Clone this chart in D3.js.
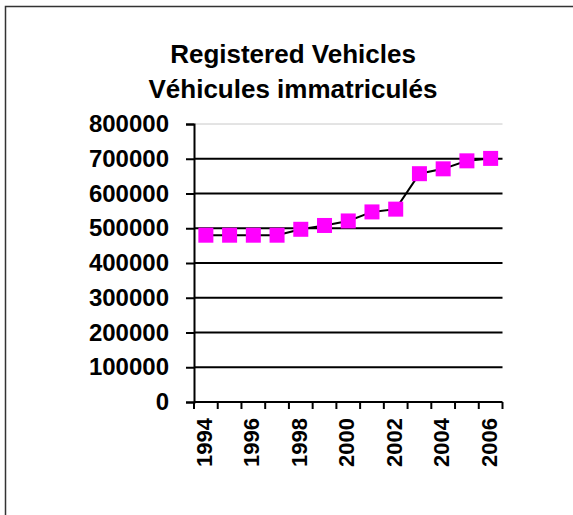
<!DOCTYPE html>
<html>
<head>
<meta charset="utf-8">
<script src="https://cdnjs.cloudflare.com/ajax/libs/d3/7.8.5/d3.min.js"></script>
<style>
  body { margin: 0; background: #fff; }
  svg text { font-family: Arial, "Liberation Sans", sans-serif; font-weight: bold; fill: #000; }
</style>
</head>
<body>
<svg width="573" height="515"></svg>
<script>
const width = 573, height = 515;
const svg = d3.select("svg");

// Chart data
const years = ["1994", "1995", "1996", "1997", "1998", "1999", "2000",
               "2001", "2002", "2003", "2004", "2005", "2006"];
const vehicles = [480000, 480000, 480000, 480000, 497000, 508000, 521000,
                  547000, 555000, 657000, 671000, 694000, 701000];
const yTicks = [0, 100000, 200000, 300000, 400000, 500000, 600000, 700000, 800000];
const xLabelYears = ["1994", "1996", "1998", "2000", "2002", "2004", "2006"];
const titleLines = ["Registered Vehicles", "Véhicules immatriculés"];

const plot = { left: 194, right: 502.5, top: 124, bottom: 402 };

// Outer frame (right and bottom edges fall outside the picture)
svg.append("rect")
    .attr("x", 5.5).attr("y", 6.5)
    .attr("width", 700).attr("height", 700)
    .attr("fill", "none")
    .attr("stroke", "#333")
    .attr("stroke-width", 1.5);

// Title
svg.selectAll(".title")
    .data(titleLines)
    .enter().append("text")
    .attr("class", "title")
    .attr("x", 293)
    .attr("y", (d, i) => 63 + i * 35)
    .attr("text-anchor", "middle")
    .style("font-size", "26px")
    .text(d => d);

// Scales
const xScale = d3.scaleBand()
    .domain(years)
    .range([plot.left, plot.right]);

const yScale = d3.scaleLinear()
    .domain([0, 800000])
    .range([plot.bottom, plot.top]);

// Gridlines
svg.append("g")
    .selectAll("line")
    .data(yTicks.filter(d => d > 0))
    .enter().append("line")
    .attr("x1", plot.left).attr("x2", plot.right)
    .attr("y1", d => yScale(d)).attr("y2", d => yScale(d))
    .attr("stroke", d => d === 800000 ? "#c8c8c8" : "#000")
    .attr("stroke-width", d => d === 800000 ? 1 : 2);

// Y axis
const yAxis = svg.append("g")
    .attr("transform", `translate(${plot.left},0)`)
    .call(d3.axisLeft(yScale).tickValues(yTicks).tickSize(8).tickPadding(17).tickFormat(d3.format("d")));
yAxis.select(".domain").attr("stroke", "#000").attr("stroke-width", 2);
yAxis.selectAll(".tick line").attr("stroke", "#000").attr("stroke-width", 2);
yAxis.selectAll(".tick text")
    .style("font-size", "24px")
    .style("font-family", "Arial, 'Liberation Sans', sans-serif")
    .style("font-weight", "bold")
    .attr("fill", "#000");

// X axis: ticks at category boundaries
const boundaries = years.map(d => xScale(d)).concat([plot.right]);
const xAxis = svg.append("g");
xAxis.append("line")
    .attr("x1", plot.left).attr("x2", plot.right)
    .attr("y1", plot.bottom).attr("y2", plot.bottom)
    .attr("stroke", "#000").attr("stroke-width", 2);
xAxis.selectAll(".xtick")
    .data(boundaries)
    .enter().append("line")
    .attr("class", "xtick")
    .attr("x1", d => d).attr("x2", d => d)
    .attr("y1", plot.bottom).attr("y2", plot.bottom + 7)
    .attr("stroke", "#000").attr("stroke-width", 2);
xAxis.selectAll(".xlabel")
    .data(xLabelYears)
    .enter().append("text")
    .attr("class", "xlabel")
    .attr("transform", d => `translate(${xScale(d) + xScale.bandwidth() / 2 + 6},${plot.bottom + 16}) rotate(-90)`)
    .attr("text-anchor", "end")
    .style("font-size", "22px")
    .text(d => d);

// Line
const line = d3.line()
    .x((d, i) => xScale(years[i]) + xScale.bandwidth() / 2)
    .y(d => yScale(d));

svg.append("path")
    .datum(vehicles)
    .attr("d", line)
    .attr("fill", "none")
    .attr("stroke", "#000")
    .attr("stroke-width", 2);

// Markers
const m = 15;
svg.selectAll(".marker")
    .data(vehicles)
    .enter().append("rect")
    .attr("class", "marker")
    .attr("x", (d, i) => xScale(years[i]) + xScale.bandwidth() / 2 - m / 2)
    .attr("y", d => yScale(d) - m / 2)
    .attr("width", m).attr("height", m)
    .attr("fill", "#ff00ff");
</script>
</body>
</html>
